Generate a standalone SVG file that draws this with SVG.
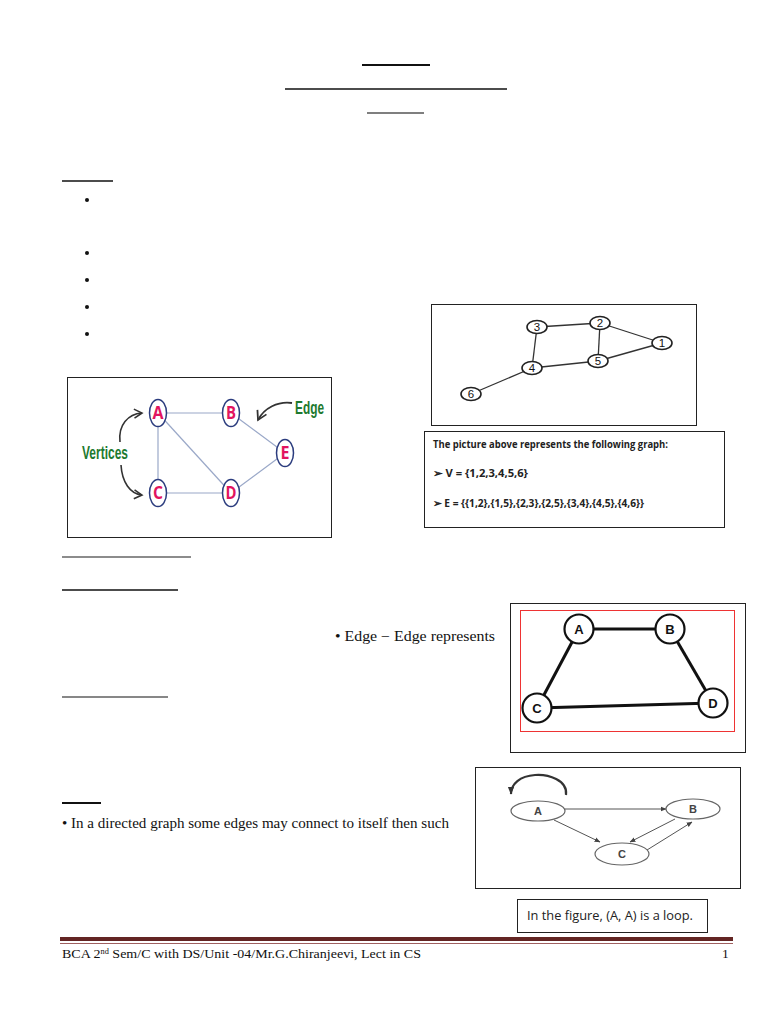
<svg xmlns="http://www.w3.org/2000/svg" width="768" height="1024" viewBox="0 0 768 1024">
<style>
.frame{fill:none;stroke:#222;stroke-width:1}
.rule{stroke:#111}
.bul{fill:#111}
.e1{stroke:#9aa8c8;stroke-width:1.2}
.v1{fill:#fff;stroke:#2b3c7e;stroke-width:1.5}
.l1{font-family:"Open Sans","Liberation Sans",sans-serif;font-weight:bold;font-size:17px;fill:#e2145f;text-anchor:middle}
.grn{font-family:"Liberation Sans",sans-serif;font-weight:bold;fill:#1d7a2f}
.e2{stroke:#333;stroke-width:1.3}
.v2{fill:#fff;stroke:#222;stroke-width:1.6}
.l2{font-family:"Liberation Sans",sans-serif;font-size:11.5px;fill:#111;text-anchor:middle}
.cal{font-family:"Open Sans","Liberation Sans",sans-serif;fill:#222}
.ser{font-family:"Liberation Serif",serif;fill:#111}
.e3{stroke:#111;stroke-width:3}
.v3{fill:#fff;stroke:#111;stroke-width:2.2}
.l3{font-family:"Liberation Sans",sans-serif;font-weight:bold;font-size:13px;fill:#111;text-anchor:middle}
.e4{stroke:#555;stroke-width:1;fill:none}
.v4{fill:#fff;stroke:#666;stroke-width:1.2}
.l4{font-family:"Liberation Sans",sans-serif;font-size:11px;font-weight:bold;fill:#444;text-anchor:middle}
</style>
<defs>
<marker id="ah" viewBox="0 0 10 10" refX="9" refY="5" markerWidth="6" markerHeight="6" orient="auto-start-reverse">
<path d="M0,1 L10,5 L0,9 z" fill="#444"/>
</marker>
<marker id="ah2" viewBox="0 0 10 10" refX="9" refY="5" markerWidth="3.5" markerHeight="3.5" orient="auto">
<path d="M0,1 L10,5 L0,9 z" fill="#333"/>
</marker>
<marker id="ch" viewBox="0 0 10 10" refX="8" refY="5" markerWidth="7" markerHeight="7" orient="auto">
<path d="M1,1 L8,5 L1,9" fill="none" stroke="#333" stroke-width="1.4"/>
</marker>
</defs>
<rect width="768" height="1024" fill="#fff"/>

<g id="title-rules">
<line class="rule" x1="362" y1="65" x2="430" y2="65" stroke-width="2.2"/>
<line class="rule" x1="285" y1="89" x2="507" y2="89" stroke-width="1.4"/>
<line x1="367" y1="113" x2="424" y2="113" stroke="#555" stroke-width="1.4"/>
</g>

<g id="left-bullets">
<line class="rule" x1="62" y1="181" x2="113" y2="181" stroke-width="1.3"/>
<circle class="bul" cx="87" cy="200" r="2"/>
<circle class="bul" cx="87" cy="253" r="2"/>
<circle class="bul" cx="87" cy="280" r="2"/>
<circle class="bul" cx="87" cy="307" r="2"/>
<circle class="bul" cx="87" cy="334" r="2"/>
</g>

<g id="fig-vertices-edges">
<rect class="frame" x="67.5" y="377.5" width="264" height="160"/>
<g id="fig1-edges">
<line class="e1" x1="158" y1="413" x2="231" y2="413"/>
<line class="e1" x1="158" y1="413" x2="158" y2="493"/>
<line class="e1" x1="158" y1="413" x2="231" y2="493"/>
<line class="e1" x1="158" y1="493" x2="231" y2="493"/>
<line class="e1" x1="231" y1="413" x2="285" y2="453"/>
<line class="e1" x1="231" y1="493" x2="285" y2="453"/>
</g>
<g id="v-A"><ellipse class="v1" cx="158" cy="413" rx="8.5" ry="13.5"/><text class="l1" x="158" y="419" textLength="11" lengthAdjust="spacingAndGlyphs">A</text></g>
<g id="v-B"><ellipse class="v1" cx="231" cy="413" rx="8.5" ry="13.5"/><text class="l1" x="231" y="419" textLength="10" lengthAdjust="spacingAndGlyphs">B</text></g>
<g id="v-C"><ellipse class="v1" cx="158" cy="493" rx="8.5" ry="13.5"/><text class="l1" x="158" y="499" textLength="10" lengthAdjust="spacingAndGlyphs">C</text></g>
<g id="v-D"><ellipse class="v1" cx="231" cy="493" rx="8.5" ry="13.5"/><text class="l1" x="231" y="499" textLength="11" lengthAdjust="spacingAndGlyphs">D</text></g>
<g id="v-E"><ellipse class="v1" cx="285" cy="453" rx="8.5" ry="13.5"/><text class="l1" x="285" y="459" textLength="9" lengthAdjust="spacingAndGlyphs">E</text></g>
<text class="grn" x="82" y="459" font-size="18" textLength="46" lengthAdjust="spacingAndGlyphs">Vertices</text>
<text class="grn" x="295" y="414" font-size="18" textLength="29" lengthAdjust="spacingAndGlyphs">Edge</text>
<path d="M120,442 C118,425 128,414 142,413" fill="none" stroke="#333" stroke-width="1.6" marker-end="url(#ch)"/>
<path d="M121,465 C122,482 130,494 142,495" fill="none" stroke="#333" stroke-width="1.6" marker-end="url(#ch)"/>
<path d="M292,403 C278,401 264,408 258,420" fill="none" stroke="#333" stroke-width="1.8" marker-end="url(#ch)"/>
</g>

<g id="fig-numbered-graph">
<rect class="frame" x="431.5" y="304.5" width="265" height="121"/>
<g id="fig2-edges">
<line class="e2" x1="537" y1="327" x2="600" y2="323"/>
<line class="e2" x1="600" y1="323" x2="662" y2="343"/>
<line class="e2" x1="600" y1="323" x2="598" y2="361"/>
<line class="e2" x1="598" y1="361" x2="662" y2="343"/>
<line class="e2" x1="537" y1="327" x2="532" y2="368"/>
<line class="e2" x1="532" y1="368" x2="598" y2="361"/>
<line class="e2" x1="532" y1="368" x2="471" y2="394"/>
</g>
<g id="n-3"><ellipse class="v2" cx="537" cy="327" rx="10" ry="6.5"/><text class="l2" x="537" y="331">3</text></g>
<g id="n-2"><ellipse class="v2" cx="600" cy="323" rx="10" ry="6.5"/><text class="l2" x="600" y="327">2</text></g>
<g id="n-1"><ellipse class="v2" cx="662" cy="343" rx="10" ry="6.5"/><text class="l2" x="662" y="347">1</text></g>
<g id="n-5"><ellipse class="v2" cx="598" cy="361" rx="10" ry="6.5"/><text class="l2" x="598" y="365">5</text></g>
<g id="n-4"><ellipse class="v2" cx="532" cy="368" rx="10" ry="6.5"/><text class="l2" x="532" y="372">4</text></g>
<g id="n-6"><ellipse class="v2" cx="471" cy="394" rx="10" ry="6.5"/><text class="l2" x="471" y="398">6</text></g>
</g>

<g id="graph-definition-box">
<rect class="frame" x="424.5" y="431.5" width="300" height="96"/>
<text class="cal" x="433" y="448" font-size="10.5" font-weight="bold" textLength="235" lengthAdjust="spacingAndGlyphs">The picture above represents the following graph:</text>
<text class="cal" x="433" y="477" font-size="10.5" font-weight="bold" textLength="95" lengthAdjust="spacingAndGlyphs">➢ V = {1,2,3,4,5,6}</text>
<text class="cal" x="433" y="507" font-size="10.5" font-weight="bold" textLength="211" lengthAdjust="spacingAndGlyphs">➢ E = {{1,2},{1,5},{2,3},{2,5},{3,4},{4,5},{4,6}}</text>
</g>

<g id="middle-section">
<line x1="62" y1="557" x2="191" y2="557" stroke="#666" stroke-width="1.4"/>
<line class="rule" x1="62" y1="590" x2="178" y2="590" stroke-width="1.6"/>
<text class="ser" x="335" y="641" font-size="14" textLength="160" lengthAdjust="spacingAndGlyphs">• Edge − Edge represents</text>
<line class="rule" x1="62" y1="697" x2="168" y2="697" stroke-width="1.2"/>
</g>

<g id="fig-ABCD">
<rect class="frame" x="510.5" y="603.5" width="235" height="149"/>
<rect x="520.5" y="610.5" width="214" height="121" fill="none" stroke="#e33" stroke-width="1"/>
<g id="fig3-edges">
<line class="e3" x1="579" y1="629" x2="670" y2="629"/>
<line class="e3" x1="579" y1="629" x2="537" y2="708"/>
<line class="e3" x1="670" y1="629" x2="713" y2="703"/>
<line class="e3" x1="537" y1="708" x2="713" y2="703"/>
</g>
<g id="q-A"><circle class="v3" cx="579" cy="629" r="14.5"/><text class="l3" x="579" y="634">A</text></g>
<g id="q-B"><circle class="v3" cx="670" cy="629" r="14.5"/><text class="l3" x="670" y="634">B</text></g>
<g id="q-C"><circle class="v3" cx="537" cy="708" r="14.5"/><text class="l3" x="537" y="713">C</text></g>
<g id="q-D"><circle class="v3" cx="713" cy="703" r="14.5"/><text class="l3" x="713" y="708">D</text></g>
</g>

<g id="fig-loop">
<rect class="frame" x="475.5" y="767.5" width="265" height="121"/>
<g id="fig4-edges">
<path d="M566,795 C568,780 548,774 535,775 C520,776 511,784 511,794" fill="none" stroke="#333" stroke-width="2.2" marker-end="url(#ah2)"/>
<line class="e4" x1="565" y1="809" x2="666" y2="809" marker-end="url(#ah)"/>
<line class="e4" x1="554" y1="820" x2="600" y2="842" marker-end="url(#ah)"/>
<line class="e4" x1="675" y1="819" x2="630" y2="842" marker-end="url(#ah)"/>
<line class="e4" x1="647" y1="850" x2="692" y2="822" marker-end="url(#ah)"/>
</g>
<g id="d-A"><ellipse class="v4" cx="538" cy="811" rx="27" ry="10"/><text class="l4" x="538" y="815">A</text></g>
<g id="d-B"><ellipse class="v4" cx="693" cy="809" rx="27" ry="10"/><text class="l4" x="693" y="813">B</text></g>
<g id="d-C"><ellipse class="v4" cx="622" cy="854" rx="27" ry="11"/><text class="l4" x="622" y="858">C</text></g>
</g>

<g id="loop-caption">
<rect class="frame" x="517.5" y="899.5" width="190" height="33"/>
<text class="cal" x="527" y="920" font-size="12.5" textLength="166" lengthAdjust="spacingAndGlyphs">In the figure, (A, A) is a loop.</text>
</g>

<g id="bottom-text">
<line class="rule" x1="62" y1="803" x2="101" y2="803" stroke-width="1.8"/>
<text class="ser" x="62" y="828" font-size="14.5" textLength="387" lengthAdjust="spacingAndGlyphs">• In a directed graph some edges may connect to itself then such</text>
</g>

<g id="footer">
<rect x="60" y="937" width="673" height="4" fill="#632523"/>
<line x1="60" y1="943.5" x2="733" y2="943.5" stroke="#a06060" stroke-width="1"/>
<text class="ser" x="62" y="958" font-size="13.5" textLength="359" lengthAdjust="spacingAndGlyphs">BCA 2<tspan font-size="8" dy="-4">nd</tspan><tspan dy="4"> Sem/C with DS/Unit -04/Mr.G.Chiranjeevi, Lect in CS</tspan></text>
<text class="ser" x="722" y="958" font-size="13.5">1</text>
</g>
</svg>
